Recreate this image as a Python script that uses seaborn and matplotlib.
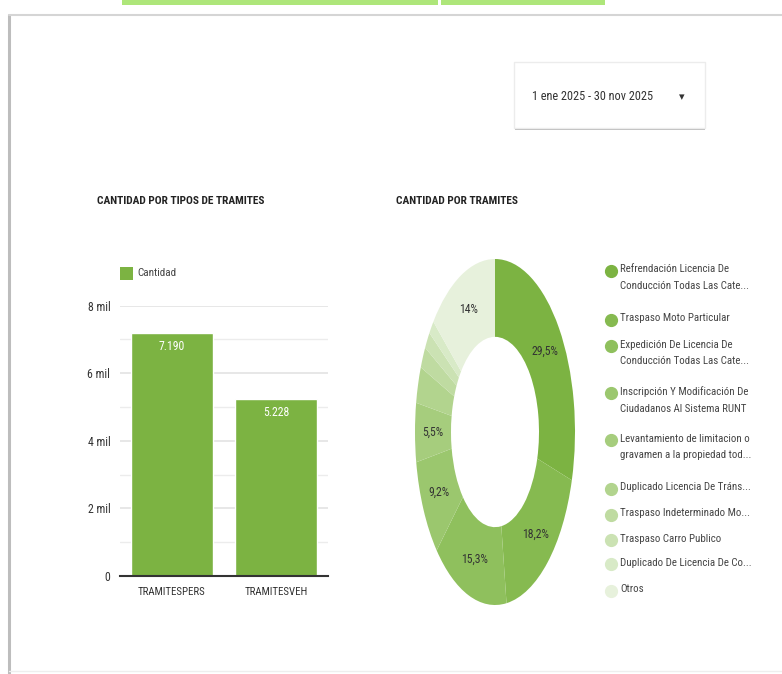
import matplotlib
matplotlib.use("Agg")
import matplotlib.pyplot as plt
from matplotlib import font_manager
from matplotlib.patches import Rectangle
from matplotlib.lines import Line2D
import seaborn as sns
import pandas as pd

# ---------------- data ----------------
bar_categories = ["TRAMITESPERS", "TRAMITESVEH"]
bar_values = [7190, 5228]
bar_series_name = "Cantidad"
y_ticks = [0, 2000, 4000, 6000, 8000]
y_tick_labels = ["0", "2 mil", "4 mil", "6 mil", "8 mil"]

pie_labels = [
    "Refrendación Licencia De\nConducción Todas Las Cate...",
    "Traspaso Moto Particular",
    "Expedición De Licencia De\nConducción Todas Las Cate...",
    "Inscripción Y Modificación De\nCiudadanos Al Sistema RUNT",
    "Levantamiento de limitacion o\ngravamen a la propiedad tod...",
    "Duplicado Licencia De Tráns...",
    "Traspaso Indeterminado Mo...",
    "Traspaso Carro Publico",
    "Duplicado De Licencia De Co...",
    "Otros",
]
pie_values = [29.5, 18.2, 15.3, 9.2, 5.5, 3.4, 2.0, 1.6, 1.3, 14.0]
pie_colors = ["#7cb342", "#86ba50", "#8fc05d", "#9bc76e", "#a6cd7d",
              "#b2d48e", "#bfdba1", "#cbe2b3", "#d8eac7", "#e7f1dc"]

title_left = "CANTIDAD POR TIPOS DE TRAMITES"
title_right = "CANTIDAD POR TRAMITES"
date_text = "1 ene 2025 - 30 nov 2025"

# ---------------- style ----------------
sns.set_theme(style="white")
avail = {f.name for f in font_manager.fontManager.ttflist}
fam = "Roboto"
for cand in ["Roboto Condensed", "Liberation Sans Narrow", "Open Sans Condensed", "Roboto"]:
    if cand in avail:
        fam = cand
        break
plt.rcParams["font.family"] = [fam, "DejaVu Sans"]

W, H = 782, 674
fig = plt.figure(figsize=(W / 100, H / 100), dpi=100)
fig.patch.set_facecolor("white")
renderer = fig.canvas.get_renderer()


def fx(x):
    return x / W


def fy(y):
    return 1 - y / H


def fit(t, max_w):
    """shrink a text until its width (px) fits max_w"""
    for _ in range(40):
        w = t.get_window_extent(renderer=renderer).width
        if w <= max_w:
            break
        t.set_fontsize(t.get_fontsize() * 0.97)
    return t


# card frame / top strips
fig.add_artist(Rectangle((fx(122), fy(5)), fx(438) - fx(122), 5 / H, color="#aee67a", lw=0))
fig.add_artist(Rectangle((fx(441), fy(5)), fx(605) - fx(441), 5 / H, color="#aee67a", lw=0))
fig.add_artist(Line2D([fx(9), fx(9)], [fy(15), fy(674)], color="#bdbdbd", lw=2.2))
fig.add_artist(Line2D([fx(9), fx(782)], [fy(15), fy(15)], color="#d5d5d5", lw=1.5))
fig.add_artist(Line2D([fx(9), fx(782)], [fy(671), fy(671)], color="#eeeeee", lw=1.0))

# date selector box
fig.add_artist(Rectangle((fx(515), fy(130)), fx(705) - fx(515), 3 / H, color="#bbbbbb", lw=0))
fig.add_artist(Rectangle((fx(514), fy(128)), fx(705) - fx(514), 66 / H,
                         facecolor="white", edgecolor="#ececec", lw=1))
fit(fig.text(fx(532), fy(97), date_text, fontsize=10, color="#333333", va="center", ha="left"), 122)
fig.text(fx(682), fy(97), "▾", fontsize=8, color="#333333", va="center", ha="center",
         family="DejaVu Sans")

# titles
fit(fig.text(fx(97), fy(201), title_left, fontsize=10.5, fontweight="bold", color="#222222",
             va="center", ha="left"), 168)
fit(fig.text(fx(396), fy(201), title_right, fontsize=10.5, fontweight="bold", color="#222222",
             va="center", ha="left"), 123)

# ---------------- bar chart ----------------
ax = fig.add_axes([fx(120), fy(576), fx(328) - fx(120), (576 - 305.7) / H])
df = pd.DataFrame({"cat": bar_categories, "val": bar_values})
sns.barplot(data=df, x="cat", y="val", color="#7cb342", saturation=1, width=0.79, ax=ax, zorder=3)
ax.set_ylim(0, 8000)
ax.set_xlim(-0.5, 1.5)
ax.set_yticks(y_ticks)
ax.set_yticklabels(y_tick_labels)
ax.set_yticks([1000, 3000, 5000, 7000], minor=True)
ax.grid(axis="y", which="major", color="#e3e3e3", lw=1.2, zorder=0)
ax.grid(axis="y", which="minor", color="#ececec", lw=1.0, zorder=0)
ax.set_axisbelow(True)
for s in ["top", "right", "left"]:
    ax.spines[s].set_visible(False)
ax.spines["bottom"].set_color("#333333")
ax.spines["bottom"].set_linewidth(1.5)
ax.spines["bottom"].set_zorder(4)
ax.tick_params(axis="y", length=0, pad=7, labelsize=8.5, labelcolor="#333333")
ax.tick_params(axis="x", length=0, pad=8, labelsize=7.8, labelcolor="#333333")
ax.set_xlabel("")
ax.set_ylabel("")
for c in ax.containers:
    ax.bar_label(c, labels=[f"{v:,}".replace(",", ".") for v in bar_values],
                 label_type="edge", padding=-14, color="white", fontsize=8.5)

# bar legend
fig.add_artist(Rectangle((fx(120), fy(280)), 13 / W, 13 / H, color="#7cb342", lw=0))
fig.text(fx(137), fy(273), bar_series_name, fontsize=8, color="#444444", va="center", ha="left")

# ---------------- donut ----------------
ax2 = fig.add_axes([fx(415), fy(605), 160 / W, 346 / H])


def pct_fmt(p):
    if p < 5:
        return ""
    s = f"{p:.1f}".replace(".", ",")
    if s.endswith(",0"):
        s = s[:-2]
    return s + "%"


wedges, texts, autotexts = ax2.pie(pie_values, colors=pie_colors, startangle=90,
                                   counterclock=False, autopct=pct_fmt, pctdistance=0.78,
                                   wedgeprops=dict(width=0.45, edgecolor="none"),
                                   textprops=dict(fontsize=8.5, color="#333333"))
ax2.set_aspect("auto")
ax2.set_xlim(-1, 1)
ax2.set_ylim(-1, 1)
ax2.axis("off")

# donut legend
legend_y = [271, 320, 346, 393, 440, 489, 515, 540, 564, 591]
for lab, col, y in zip(pie_labels, pie_colors, legend_y):
    fig.add_artist(Line2D([fx(611)], [fy(y)], marker="o", markersize=8.5, color=col, lw=0))
    fig.text(fx(620), fy(y - 6.5), lab, fontsize=7.8, color="#444444", va="top", ha="left",
             linespacing=1.8)

fig.savefig("out.png", dpi=100, facecolor="white")
